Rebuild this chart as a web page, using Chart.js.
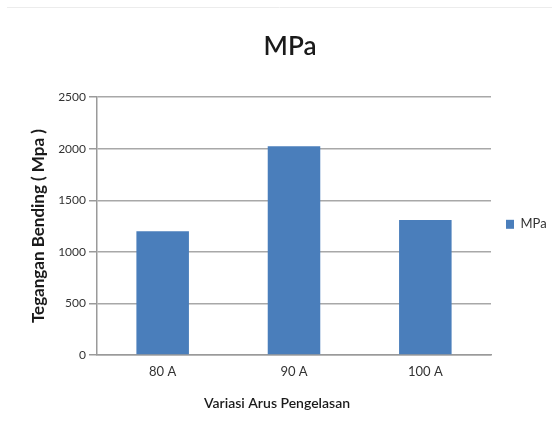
<!DOCTYPE html>
<html>
<head>
<meta charset="utf-8">
<script src="https://cdn.jsdelivr.net/npm/chart.js@4/dist/chart.umd.min.js"></script>
<style>
  html, body { margin: 0; padding: 0; background: #fff; }
  #wrap { width: 552px; height: 439px; position: relative; }
</style>
</head>
<body>
<div id="wrap"><canvas id="c" width="552" height="439"></canvas></div>
<script>
// Bending stress per welding current
const categories = ['80 A', '90 A', '100 A'];
const seriesName = 'MPa';
const mpaValues = [1200, 2025, 1310];
const yTicks = [0, 500, 1000, 1500, 2000, 2500];
const xTitle = 'Variasi Arus Pengelasan';

const FONT = 'Lato, "Open Sans", sans-serif';

// faint frame line across the top of the page
const topLine = {
  id: 'topLine',
  beforeDraw(chart) {
    const ctx = chart.ctx;
    ctx.save();
    ctx.strokeStyle = '#ececec';
    ctx.lineWidth = 1;
    ctx.beginPath();
    ctx.moveTo(7, 7.5);
    ctx.lineTo(552, 7.5);
    ctx.stroke();
    ctx.restore();
  }
};

// category axis title, set slightly left of the plot centre
const xAxisTitle = {
  id: 'xAxisTitle',
  afterDraw(chart) {
    const ctx = chart.ctx;
    const area = chart.chartArea;
    ctx.save();
    ctx.fillStyle = '#1a1a1a';
    ctx.font = '600 14px ' + FONT;
    ctx.textAlign = 'center';
    ctx.textBaseline = 'middle';
    ctx.fillText(xTitle, (area.left + area.right) / 2 - 17, area.bottom + 48);
    ctx.restore();
  }
};

new Chart(document.getElementById('c'), {
  type: 'bar',
  data: {
    labels: categories,
    datasets: [{
      label: seriesName,
      data: mpaValues,
      backgroundColor: '#4a7ebb',
      borderWidth: 0,
      categoryPercentage: 1,
      barPercentage: 0.4
    }]
  },
  plugins: [topLine, xAxisTitle],
  options: {
    responsive: false,
    animation: false,
    devicePixelRatio: 1,
    layout: { padding: { left: 28, right: 0, top: 0, bottom: 0 } },
    plugins: {
      title: {
        display: true,
        text: 'MPa',
        color: '#1a1a1a',
        font: { family: FONT, size: 26, weight: '600' },
        padding: { top: 31, bottom: 35 }
      },
      legend: {
        display: true,
        position: 'right',
        maxWidth: 61,
        title: {
          display: true,
          text: ' ',
          font: { family: FONT, size: 8 },
          padding: 0
        },
        labels: {
          color: '#333',
          font: { family: FONT, size: 13 },
          boxWidth: 8,
          boxHeight: 9,
          padding: 15
        }
      },
      tooltip: { enabled: false }
    },
    scales: {
      x: {
        afterFit(axis) { axis.height = 84; },
        grid: { display: false, drawTicks: false },
        border: { display: true, color: '#9a9a9a', width: 1.5 },
        ticks: { color: '#333', font: { family: FONT, size: 13 }, padding: 9 }
      },
      y: {
        min: 0,
        max: 2500,
        afterBuildTicks(axis) { axis.ticks = yTicks.map(v => ({ value: v })); },
        afterFit(axis) { axis.width = 69; },
        grid: { color: '#a8a8a8', lineWidth: 1.5, tickLength: 8, tickColor: '#9a9a9a' },
        border: { display: true, color: '#9a9a9a', width: 1.5 },
        ticks: {
          color: '#333',
          font: { family: FONT, size: 12 },
          padding: 3,
          callback: (v) => String(v)
        },
        title: {
          display: true,
          text: 'Tegangan Bending ( Mpa )',
          color: '#1a1a1a',
          font: { family: FONT, size: 17, weight: 'bold' },
          padding: { top: 0, bottom: 2 }
        }
      }
    }
  }
});
</script>
</body>
</html>
